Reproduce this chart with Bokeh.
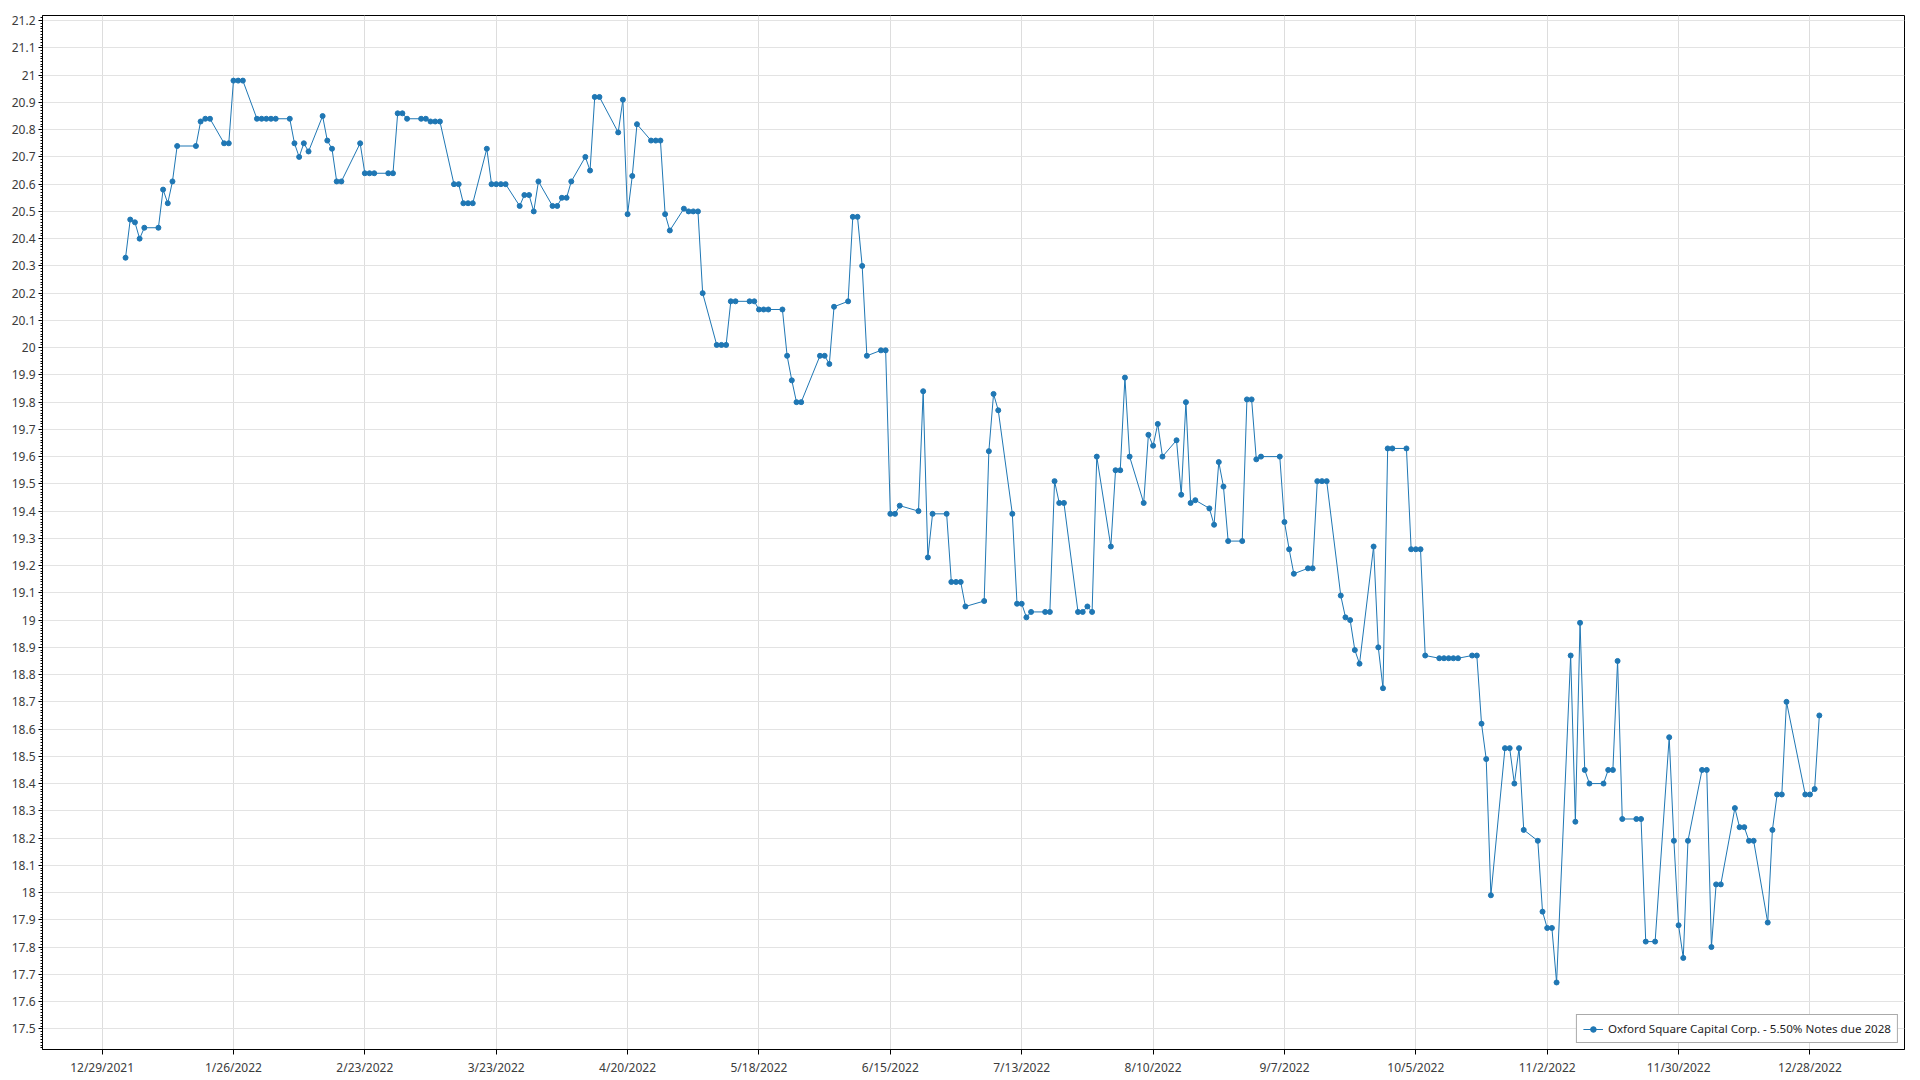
import pandas as pd
from bokeh.plotting import figure
from bokeh.models import (ColumnDataSource, Range1d, FixedTicker, SingleIntervalTicker,
                          CustomJSTickFormatter)
from bokeh.embed import file_html
from bokeh.resources import INLINE

series_name = "Oxford Square Capital Corp. - 5.50% Notes due 2028"

dates = [
    "2022-01-03", "2022-01-04", "2022-01-05", "2022-01-06", "2022-01-07",
    "2022-01-10", "2022-01-11", "2022-01-12", "2022-01-13", "2022-01-14",
    "2022-01-18", "2022-01-19", "2022-01-20", "2022-01-21",
    "2022-01-24", "2022-01-25", "2022-01-26", "2022-01-27", "2022-01-28",
    "2022-01-31", "2022-02-01", "2022-02-02", "2022-02-03", "2022-02-04",
    "2022-02-07", "2022-02-08", "2022-02-09", "2022-02-10", "2022-02-11",
    "2022-02-14", "2022-02-15", "2022-02-16", "2022-02-17", "2022-02-18",
    "2022-02-22", "2022-02-23", "2022-02-24", "2022-02-25",
    "2022-02-28", "2022-03-01", "2022-03-02", "2022-03-03", "2022-03-04",
    "2022-03-07", "2022-03-08", "2022-03-09", "2022-03-10", "2022-03-11",
    "2022-03-14", "2022-03-15", "2022-03-16", "2022-03-17", "2022-03-18",
    "2022-03-21", "2022-03-22", "2022-03-23", "2022-03-24", "2022-03-25",
    "2022-03-28", "2022-03-29", "2022-03-30", "2022-03-31", "2022-04-01",
    "2022-04-04", "2022-04-05", "2022-04-06", "2022-04-07", "2022-04-08",
    "2022-04-11", "2022-04-12", "2022-04-13", "2022-04-14",
    "2022-04-18", "2022-04-19", "2022-04-20", "2022-04-21", "2022-04-22",
    "2022-04-25", "2022-04-26", "2022-04-27", "2022-04-28", "2022-04-29",
    "2022-05-02", "2022-05-03", "2022-05-04", "2022-05-05", "2022-05-06",
    "2022-05-09", "2022-05-10", "2022-05-11", "2022-05-12", "2022-05-13",
    "2022-05-16", "2022-05-17", "2022-05-18", "2022-05-19", "2022-05-20",
    "2022-05-23", "2022-05-24", "2022-05-25", "2022-05-26", "2022-05-27",
    "2022-05-31", "2022-06-01", "2022-06-02", "2022-06-03",
    "2022-06-06", "2022-06-07", "2022-06-08", "2022-06-09", "2022-06-10",
    "2022-06-13", "2022-06-14", "2022-06-15", "2022-06-16", "2022-06-17",
    "2022-06-21", "2022-06-22", "2022-06-23", "2022-06-24",
    "2022-06-27", "2022-06-28", "2022-06-29", "2022-06-30", "2022-07-01",
    "2022-07-05", "2022-07-06", "2022-07-07", "2022-07-08",
    "2022-07-11", "2022-07-12", "2022-07-13", "2022-07-14", "2022-07-15",
    "2022-07-18", "2022-07-19", "2022-07-20", "2022-07-21", "2022-07-22",
    "2022-07-25", "2022-07-26", "2022-07-27", "2022-07-28", "2022-07-29",
    "2022-08-01", "2022-08-02", "2022-08-03", "2022-08-04", "2022-08-05",
    "2022-08-08", "2022-08-09", "2022-08-10", "2022-08-11", "2022-08-12",
    "2022-08-15", "2022-08-16", "2022-08-17", "2022-08-18", "2022-08-19",
    "2022-08-22", "2022-08-23", "2022-08-24", "2022-08-25", "2022-08-26",
    "2022-08-29", "2022-08-30", "2022-08-31", "2022-09-01", "2022-09-02",
    "2022-09-06", "2022-09-07", "2022-09-08", "2022-09-09",
    "2022-09-12", "2022-09-13", "2022-09-14", "2022-09-15", "2022-09-16",
    "2022-09-19", "2022-09-20", "2022-09-21", "2022-09-22", "2022-09-23",
    "2022-09-26", "2022-09-27", "2022-09-28", "2022-09-29", "2022-09-30",
    "2022-10-03", "2022-10-04", "2022-10-05", "2022-10-06", "2022-10-07",
    "2022-10-10", "2022-10-11", "2022-10-12", "2022-10-13", "2022-10-14",
    "2022-10-17", "2022-10-18", "2022-10-19", "2022-10-20", "2022-10-21",
    "2022-10-24", "2022-10-25", "2022-10-26", "2022-10-27", "2022-10-28",
    "2022-10-31", "2022-11-01", "2022-11-02", "2022-11-03", "2022-11-04",
    "2022-11-07", "2022-11-08", "2022-11-09", "2022-11-10", "2022-11-11",
    "2022-11-14", "2022-11-15", "2022-11-16", "2022-11-17", "2022-11-18",
    "2022-11-21", "2022-11-22", "2022-11-23", "2022-11-25",
    "2022-11-28", "2022-11-29", "2022-11-30", "2022-12-01", "2022-12-02",
    "2022-12-05", "2022-12-06", "2022-12-07", "2022-12-08", "2022-12-09",
    "2022-12-12", "2022-12-13", "2022-12-14", "2022-12-15", "2022-12-16",
    "2022-12-19", "2022-12-20", "2022-12-21", "2022-12-22", "2022-12-23",
    "2022-12-27", "2022-12-28", "2022-12-29", "2022-12-30",
]

prices = [
    20.33, 20.47, 20.46, 20.40, 20.44,
    20.44, 20.58, 20.53, 20.61, 20.74,
    20.74, 20.83, 20.84, 20.84,
    20.75, 20.75, 20.98, 20.98, 20.98,
    20.84, 20.84, 20.84, 20.84, 20.84,
    20.84, 20.75, 20.70, 20.75, 20.72,
    20.85, 20.76, 20.73, 20.61, 20.61,
    20.75, 20.64, 20.64, 20.64,
    20.64, 20.64, 20.86, 20.86, 20.84,
    20.84, 20.84, 20.83, 20.83, 20.83,
    20.60, 20.60, 20.53, 20.53, 20.53,
    20.73, 20.60, 20.60, 20.60, 20.60,
    20.52, 20.56, 20.56, 20.50, 20.61,
    20.52, 20.52, 20.55, 20.55, 20.61,
    20.70, 20.65, 20.92, 20.92,
    20.79, 20.91, 20.49, 20.63, 20.82,
    20.76, 20.76, 20.76, 20.49, 20.43,
    20.51, 20.50, 20.50, 20.50, 20.20,
    20.01, 20.01, 20.01, 20.17, 20.17,
    20.17, 20.17, 20.14, 20.14, 20.14,
    20.14, 19.97, 19.88, 19.80, 19.80,
    19.97, 19.97, 19.94, 20.15,
    20.17, 20.48, 20.48, 20.30, 19.97,
    19.99, 19.99, 19.39, 19.39, 19.42,
    19.40, 19.84, 19.23, 19.39,
    19.39, 19.14, 19.14, 19.14, 19.05,
    19.07, 19.62, 19.83, 19.77,
    19.39, 19.06, 19.06, 19.01, 19.03,
    19.03, 19.03, 19.51, 19.43, 19.43,
    19.03, 19.03, 19.05, 19.03, 19.60,
    19.27, 19.55, 19.55, 19.89, 19.60,
    19.43, 19.68, 19.64, 19.72, 19.60,
    19.66, 19.46, 19.80, 19.43, 19.44,
    19.41, 19.35, 19.58, 19.49, 19.29,
    19.29, 19.81, 19.81, 19.59, 19.60,
    19.60, 19.36, 19.26, 19.17,
    19.19, 19.19, 19.51, 19.51, 19.51,
    19.09, 19.01, 19.00, 18.89, 18.84,
    19.27, 18.90, 18.75, 19.63, 19.63,
    19.63, 19.26, 19.26, 19.26, 18.87,
    18.86, 18.86, 18.86, 18.86, 18.86,
    18.87, 18.87, 18.62, 18.49, 17.99,
    18.53, 18.53, 18.40, 18.53, 18.23,
    18.19, 17.93, 17.87, 17.87, 17.67,
    18.87, 18.26, 18.99, 18.45, 18.40,
    18.40, 18.45, 18.45, 18.85, 18.27,
    18.27, 18.27, 17.82, 17.82,
    18.57, 18.19, 17.88, 17.76, 18.19,
    18.45, 18.45, 17.80, 18.03, 18.03,
    18.31, 18.24, 18.24, 18.19, 18.19,
    17.89, 18.23, 18.36, 18.36, 18.70,
    18.36, 18.36, 18.38, 18.65,
]

tick_dates = [
    "2021-12-29", "2022-01-26", "2022-02-23", "2022-03-23", "2022-04-20",
    "2022-05-18", "2022-06-15", "2022-07-13", "2022-08-10", "2022-09-07",
    "2022-10-05", "2022-11-02", "2022-11-30", "2022-12-28",
]

x_start = pd.Timestamp("2021-12-16 07:12")
x_end = pd.Timestamp("2023-01-17 03:36")
y_start, y_end = 17.424, 21.219

src = ColumnDataSource(dict(x=pd.to_datetime(dates), y=prices))

FONT = "Noto Sans"
BLUE = "#1f77b4"

p = figure(
    frame_width=1862, frame_height=1034,
    x_axis_type="datetime",
    x_range=Range1d(x_start, x_end), y_range=Range1d(y_start, y_end),
    output_backend="svg", toolbar_location=None,
    min_border_left=42, min_border_right=8, min_border_top=15, min_border_bottom=22,
    background_fill_color="white", border_fill_color="white",
)

p.line("x", "y", source=src, line_color=BLUE, line_width=1, legend_label=series_name)
p.scatter("x", "y", source=src, size=5, fill_color=BLUE, line_color=BLUE,
          legend_label=series_name)

tick_ms = [int(t.value // 10**6) for t in pd.to_datetime(tick_dates)]
p.xaxis.ticker = FixedTicker(ticks=tick_ms)
p.xaxis.formatter = CustomJSTickFormatter(code="""
const d = new Date(tick);
return (d.getUTCMonth() + 1) + "/" + d.getUTCDate() + "/" + d.getUTCFullYear();
""")
p.yaxis.ticker = SingleIntervalTicker(interval=0.1, num_minor_ticks=10)
p.yaxis.formatter = CustomJSTickFormatter(code="""
return (Math.round(tick * 10) / 10).toString();
""")

for ax in (p.xaxis[0], p.yaxis[0]):
    ax.axis_line_color = "black"
    ax.axis_line_width = 1
    ax.major_tick_line_color = "black"
    ax.major_tick_in = 0
    ax.major_label_text_font = FONT
    ax.major_label_text_font_size = "12px"
    ax.major_label_text_color = "#3c3c3c"

p.xaxis.major_tick_out = 5
p.xaxis.minor_tick_line_color = None
p.xaxis.major_label_standoff = 4
p.yaxis.major_tick_out = 4
p.yaxis.minor_tick_in = 0
p.yaxis.minor_tick_out = 2
p.yaxis.minor_tick_line_color = "black"
p.yaxis.major_label_standoff = 3

p.xgrid.grid_line_color = "#dddddd"
p.ygrid.grid_line_color = "#e3e3e3"
p.xgrid.grid_line_width = 1
p.ygrid.grid_line_width = 1

p.outline_line_color = "black"
p.outline_line_width = 1
p.outline_line_alpha = 1

lg = p.legend[0]
lg.location = "bottom_right"
lg.margin = 6
lg.padding = 6
lg.glyph_width = 20
lg.glyph_height = 14
lg.label_height = 14
lg.label_standoff = 5
lg.label_text_font = FONT
lg.label_text_font_size = "11.6px"
lg.label_text_color = "#1e1e1e"
lg.border_line_color = "#555555"
lg.border_line_width = 1
lg.background_fill_color = "white"
lg.background_fill_alpha = 1

open("out.html", "w").write(file_html(p, INLINE))
